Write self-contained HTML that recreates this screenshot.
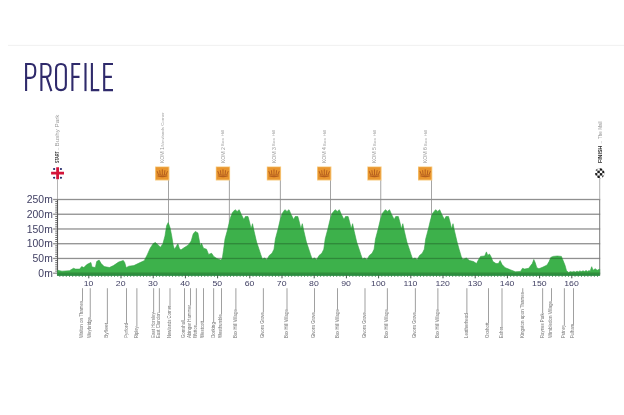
<!DOCTYPE html>
<html><head><meta charset="utf-8"><title>Profile</title>
<style>
html,body{margin:0;padding:0;background:#fff;}
body{width:624px;height:415px;overflow:hidden;font-family:"Liberation Sans",sans-serif;}
svg{display:block;will-change:transform;opacity:0.999}
text{font-family:"Liberation Sans",sans-serif;}
</style></head><body>
<svg width="624" height="415" viewBox="0 0 624 415">
<rect width="624" height="415" fill="#ffffff"/>
<rect x="8" y="44.8" width="616" height="1.2" fill="#f2f2f2"/>

<g fill="none" stroke="#2f2a6b" stroke-width="2.1" stroke-linecap="butt" stroke-linejoin="miter">
<path d="M26.1,91.1 V64.05 H30.7 Q35.25,64.05 35.25,70.05 V71.85 Q35.25,77.85 30.7,77.85 H26.1"/>
<path d="M41.4,91.1 V64.05 H46 Q50.55,64.05 50.55,69.64999999999999 V71.30000000000001 Q50.55,76.9 46,76.9 H41.4 M46.6,76.9 L51.4,91.1"/>
<path d="M56.05,69.05 Q56.05,64.05 60.95,64.05 Q65.85,64.05 65.85,69.05 V85.1 Q65.85,90.1 60.95,90.1 Q56.05,90.1 56.05,85.1 Z"/>
<path d="M72.4,91.1 V64.05 H80.2 M72.4,76.9 H79.5"/>
<path d="M85.5,63.0 V91.1"/>
<path d="M91.9,63.0 V90.1 H99.3"/>
<path d="M113,64.05 H104.2 V90.1 H113 M104.2,76.9 H111.9"/>
</g>
<clipPath id="pc"><polygon points="57.5,275.2 57.5,270.3 57.8,270.3 62.0,271.2 69.4,270.7 73.5,268.3 75.5,269.1 79.7,269.1 81.7,266.6 83.8,267.6 86.8,264.6 90.9,262.5 92.0,267.0 95.4,267.5 96.7,261.5 99.1,260.1 101.2,263.6 104.2,266.6 109.4,267.5 113.5,265.6 118.6,262.1 123.3,260.5 124.7,262.5 126.2,267.7 128.8,266.2 133.9,265.6 140.1,262.6 144.2,260.7 147.2,254.9 150.2,248.2 153.3,243.5 155.4,242.5 158.4,245.2 160.5,247.2 162.9,243.7 165.0,235.9 166.6,225.7 168.2,222.6 170.1,227.8 171.7,235.9 173.2,245.2 174.4,249.2 175.8,247.2 177.9,243.7 179.3,248.2 180.9,249.9 184.0,247.8 188.1,245.2 191.2,241.1 193.2,233.9 195.3,231.4 197.9,232.9 199.4,241.1 200.4,246.2 201.4,243.1 203.5,248.2 206.5,249.2 208.6,254.4 211.6,253.3 213.7,256.4 216.8,258.5 220.9,260.1 222.3,258.5 223.5,250.3 225.0,239.0 227.0,231.8 229.0,223.7 230.5,217.5 232.5,212.4 235.1,209.7 237.2,211.4 239.2,209.7 241.3,214.4 243.9,219.6 245.4,216.5 248.0,216.5 249.4,221.6 251.1,228.8 252.5,223.7 254.2,231.8 256.6,242.1 258.7,248.2 260.7,254.4 262.3,258.9 264.8,258.0 266.8,259.8 269.3,255.4 272.0,253.3 274.0,249.2 275.4,239.0 278.1,228.8 280.2,220.0 282.2,213.4 284.9,209.7 287.0,211.4 289.0,209.7 291.1,214.4 293.7,219.6 295.2,216.5 297.8,216.5 299.2,221.6 300.9,228.8 302.3,223.7 304.0,231.8 306.4,242.1 308.5,248.2 310.5,254.4 312.1,258.9 314.6,258.0 316.6,259.8 319.1,255.4 321.8,253.3 323.8,249.2 325.2,239.0 327.9,228.8 330.0,220.0 332.0,213.4 335.2,209.7 337.3,211.4 339.3,209.7 341.4,214.4 344.0,219.6 345.5,216.5 348.1,216.5 349.5,221.6 351.2,228.8 352.6,223.7 354.3,231.8 356.7,242.1 358.8,248.2 360.8,254.4 362.4,258.9 364.9,258.0 366.9,259.8 369.4,255.4 372.1,253.3 374.1,249.2 375.5,239.0 378.2,228.8 380.3,220.0 382.3,213.4 385.4,209.7 387.5,211.4 389.5,209.7 391.6,214.4 394.2,219.6 395.7,216.5 398.3,216.5 399.7,221.6 401.4,228.8 402.8,223.7 404.5,231.8 406.9,242.1 409.0,248.2 411.0,254.4 412.6,258.9 415.1,258.0 417.1,259.8 419.6,255.4 422.3,253.3 424.3,249.2 425.7,239.0 428.4,228.8 430.5,220.0 432.5,213.4 435.6,209.7 437.7,211.4 439.7,209.7 441.8,214.4 444.4,219.6 445.9,216.5 448.5,216.5 449.9,221.6 451.6,228.8 453.0,223.7 454.7,231.8 457.1,242.1 459.1,249.2 461.2,256.4 462.8,259.5 466.3,258.0 469.4,260.5 473.5,261.5 476.5,263.6 478.6,259.5 480.6,256.4 484.7,256.0 486.4,251.9 487.8,255.4 489.4,254.0 490.9,256.4 492.9,261.5 496.0,263.6 498.4,263.6 500.1,260.5 502.1,264.6 505.2,267.7 510.2,269.7 515.4,271.8 520.5,271.4 522.5,268.3 524.6,269.1 528.7,268.3 530.7,265.6 532.3,263.6 533.8,259.5 535.2,262.6 536.8,267.7 538.9,268.7 543.0,267.1 547.1,265.0 549.1,261.5 550.8,257.4 553.2,256.4 557.3,256.0 561.4,256.4 563.1,260.5 565.1,265.6 566.5,270.7 568.6,272.4 570.5,271.6 572.0,272.1 573.7,271.4 575.4,272.0 577.0,271.2 578.6,271.8 579.8,270.9 581.5,271.6 583.0,270.8 584.6,271.5 586.0,270.5 587.6,271.4 589.0,270.6 590.1,271.2 591.7,266.7 593.1,270.3 595.2,268.7 597.2,270.3 599.7,269.1 599.7,275.2"/></clipPath>
<rect x="53.1" y="272.55" width="547.1" height="1.3" fill="#909090"/>
<rect x="53.1" y="257.81" width="547.1" height="1.3" fill="#909090"/>
<rect x="53.1" y="243.07" width="547.1" height="1.3" fill="#909090"/>
<rect x="53.1" y="228.33" width="547.1" height="1.3" fill="#909090"/>
<rect x="53.1" y="213.59" width="547.1" height="1.3" fill="#909090"/>
<rect x="53.1" y="198.85" width="547.1" height="1.3" fill="#909090"/>
<rect x="57.0" y="179" width="1" height="20.50" fill="#b5b5b5"/>
<rect x="56.95" y="199.50" width="1.1" height="76.20" fill="#5a5a5a"/>
<rect x="599.2" y="178" width="1" height="21.50" fill="#b0b0b0"/>
<rect x="599.2" y="199.50" width="1" height="76.20" fill="#7a7a7a"/>
<rect x="168.20" y="180" width="0.8" height="95.19999999999999" fill="#8e8e8e"/>
<rect x="228.90" y="180" width="0.8" height="95.19999999999999" fill="#8e8e8e"/>
<rect x="279.90" y="180" width="0.8" height="95.19999999999999" fill="#8e8e8e"/>
<rect x="330.20" y="180" width="0.8" height="95.19999999999999" fill="#8e8e8e"/>
<rect x="380.40" y="180" width="0.8" height="95.19999999999999" fill="#8e8e8e"/>
<rect x="431.10" y="180" width="0.8" height="95.19999999999999" fill="#8e8e8e"/>
<polygon points="57.5,275.2 57.5,270.3 57.8,270.3 62.0,271.2 69.4,270.7 73.5,268.3 75.5,269.1 79.7,269.1 81.7,266.6 83.8,267.6 86.8,264.6 90.9,262.5 92.0,267.0 95.4,267.5 96.7,261.5 99.1,260.1 101.2,263.6 104.2,266.6 109.4,267.5 113.5,265.6 118.6,262.1 123.3,260.5 124.7,262.5 126.2,267.7 128.8,266.2 133.9,265.6 140.1,262.6 144.2,260.7 147.2,254.9 150.2,248.2 153.3,243.5 155.4,242.5 158.4,245.2 160.5,247.2 162.9,243.7 165.0,235.9 166.6,225.7 168.2,222.6 170.1,227.8 171.7,235.9 173.2,245.2 174.4,249.2 175.8,247.2 177.9,243.7 179.3,248.2 180.9,249.9 184.0,247.8 188.1,245.2 191.2,241.1 193.2,233.9 195.3,231.4 197.9,232.9 199.4,241.1 200.4,246.2 201.4,243.1 203.5,248.2 206.5,249.2 208.6,254.4 211.6,253.3 213.7,256.4 216.8,258.5 220.9,260.1 222.3,258.5 223.5,250.3 225.0,239.0 227.0,231.8 229.0,223.7 230.5,217.5 232.5,212.4 235.1,209.7 237.2,211.4 239.2,209.7 241.3,214.4 243.9,219.6 245.4,216.5 248.0,216.5 249.4,221.6 251.1,228.8 252.5,223.7 254.2,231.8 256.6,242.1 258.7,248.2 260.7,254.4 262.3,258.9 264.8,258.0 266.8,259.8 269.3,255.4 272.0,253.3 274.0,249.2 275.4,239.0 278.1,228.8 280.2,220.0 282.2,213.4 284.9,209.7 287.0,211.4 289.0,209.7 291.1,214.4 293.7,219.6 295.2,216.5 297.8,216.5 299.2,221.6 300.9,228.8 302.3,223.7 304.0,231.8 306.4,242.1 308.5,248.2 310.5,254.4 312.1,258.9 314.6,258.0 316.6,259.8 319.1,255.4 321.8,253.3 323.8,249.2 325.2,239.0 327.9,228.8 330.0,220.0 332.0,213.4 335.2,209.7 337.3,211.4 339.3,209.7 341.4,214.4 344.0,219.6 345.5,216.5 348.1,216.5 349.5,221.6 351.2,228.8 352.6,223.7 354.3,231.8 356.7,242.1 358.8,248.2 360.8,254.4 362.4,258.9 364.9,258.0 366.9,259.8 369.4,255.4 372.1,253.3 374.1,249.2 375.5,239.0 378.2,228.8 380.3,220.0 382.3,213.4 385.4,209.7 387.5,211.4 389.5,209.7 391.6,214.4 394.2,219.6 395.7,216.5 398.3,216.5 399.7,221.6 401.4,228.8 402.8,223.7 404.5,231.8 406.9,242.1 409.0,248.2 411.0,254.4 412.6,258.9 415.1,258.0 417.1,259.8 419.6,255.4 422.3,253.3 424.3,249.2 425.7,239.0 428.4,228.8 430.5,220.0 432.5,213.4 435.6,209.7 437.7,211.4 439.7,209.7 441.8,214.4 444.4,219.6 445.9,216.5 448.5,216.5 449.9,221.6 451.6,228.8 453.0,223.7 454.7,231.8 457.1,242.1 459.1,249.2 461.2,256.4 462.8,259.5 466.3,258.0 469.4,260.5 473.5,261.5 476.5,263.6 478.6,259.5 480.6,256.4 484.7,256.0 486.4,251.9 487.8,255.4 489.4,254.0 490.9,256.4 492.9,261.5 496.0,263.6 498.4,263.6 500.1,260.5 502.1,264.6 505.2,267.7 510.2,269.7 515.4,271.8 520.5,271.4 522.5,268.3 524.6,269.1 528.7,268.3 530.7,265.6 532.3,263.6 533.8,259.5 535.2,262.6 536.8,267.7 538.9,268.7 543.0,267.1 547.1,265.0 549.1,261.5 550.8,257.4 553.2,256.4 557.3,256.0 561.4,256.4 563.1,260.5 565.1,265.6 566.5,270.7 568.6,272.4 570.5,271.6 572.0,272.1 573.7,271.4 575.4,272.0 577.0,271.2 578.6,271.8 579.8,270.9 581.5,271.6 583.0,270.8 584.6,271.5 586.0,270.5 587.6,271.4 589.0,270.6 590.1,271.2 591.7,266.7 593.1,270.3 595.2,268.7 597.2,270.3 599.7,269.1 599.7,275.2" fill="#3db14b" stroke="#35a346" stroke-width="0.6" stroke-linejoin="round"/>
<g clip-path="url(#pc)">
<rect x="57.5" y="272.55" width="542.7" height="1.3" fill="#000" fill-opacity="0.23"/>
<rect x="57.5" y="257.81" width="542.7" height="1.3" fill="#000" fill-opacity="0.23"/>
<rect x="57.5" y="243.07" width="542.7" height="1.3" fill="#000" fill-opacity="0.23"/>
<rect x="57.5" y="228.33" width="542.7" height="1.3" fill="#000" fill-opacity="0.23"/>
<rect x="57.5" y="213.59" width="542.7" height="1.3" fill="#000" fill-opacity="0.23"/>
<rect x="57.5" y="198.85" width="542.7" height="1.3" fill="#000" fill-opacity="0.23"/>
</g>
<rect x="57.5" y="274.3" width="542.2" height="1.4" fill="#23803a"/>
<rect x="55.2" y="270.69" width="2.3" height="0.8" fill="#555"/>
<rect x="55.2" y="268.59" width="2.3" height="0.8" fill="#555"/>
<rect x="55.2" y="266.48" width="2.3" height="0.8" fill="#555"/>
<rect x="55.2" y="264.38" width="2.3" height="0.8" fill="#555"/>
<rect x="55.2" y="262.27" width="2.3" height="0.8" fill="#555"/>
<rect x="55.2" y="260.17" width="2.3" height="0.8" fill="#555"/>
<rect x="55.2" y="255.95" width="2.3" height="0.8" fill="#555"/>
<rect x="55.2" y="253.85" width="2.3" height="0.8" fill="#555"/>
<rect x="55.2" y="251.74" width="2.3" height="0.8" fill="#555"/>
<rect x="55.2" y="249.64" width="2.3" height="0.8" fill="#555"/>
<rect x="55.2" y="247.53" width="2.3" height="0.8" fill="#555"/>
<rect x="55.2" y="245.43" width="2.3" height="0.8" fill="#555"/>
<rect x="55.2" y="241.21" width="2.3" height="0.8" fill="#555"/>
<rect x="55.2" y="239.11" width="2.3" height="0.8" fill="#555"/>
<rect x="55.2" y="237.00" width="2.3" height="0.8" fill="#555"/>
<rect x="55.2" y="234.90" width="2.3" height="0.8" fill="#555"/>
<rect x="55.2" y="232.79" width="2.3" height="0.8" fill="#555"/>
<rect x="55.2" y="230.69" width="2.3" height="0.8" fill="#555"/>
<rect x="55.2" y="226.47" width="2.3" height="0.8" fill="#555"/>
<rect x="55.2" y="224.37" width="2.3" height="0.8" fill="#555"/>
<rect x="55.2" y="222.26" width="2.3" height="0.8" fill="#555"/>
<rect x="55.2" y="220.16" width="2.3" height="0.8" fill="#555"/>
<rect x="55.2" y="218.05" width="2.3" height="0.8" fill="#555"/>
<rect x="55.2" y="215.95" width="2.3" height="0.8" fill="#555"/>
<rect x="55.2" y="211.73" width="2.3" height="0.8" fill="#555"/>
<rect x="55.2" y="209.63" width="2.3" height="0.8" fill="#555"/>
<rect x="55.2" y="207.52" width="2.3" height="0.8" fill="#555"/>
<rect x="55.2" y="205.42" width="2.3" height="0.8" fill="#555"/>
<rect x="55.2" y="203.31" width="2.3" height="0.8" fill="#555"/>
<rect x="55.2" y="201.21" width="2.3" height="0.8" fill="#555"/>
<text x="52.8" y="276.8" font-size="10.4" text-anchor="end" fill="#3f3e62">0m</text>
<text x="52.8" y="262.1" font-size="10.4" text-anchor="end" fill="#3f3e62">50m</text>
<text x="52.8" y="247.3" font-size="10.4" text-anchor="end" fill="#3f3e62">100m</text>
<text x="52.8" y="232.6" font-size="10.4" text-anchor="end" fill="#3f3e62">150m</text>
<text x="52.8" y="217.8" font-size="10.4" text-anchor="end" fill="#3f3e62">200m</text>
<text x="52.8" y="203.1" font-size="10.4" text-anchor="end" fill="#3f3e62">250m</text>
<rect x="59.37" y="275.2" width="0.9" height="1.7" fill="#2e8b44" fill-opacity="0.85"/>
<rect x="62.59" y="275.2" width="0.9" height="1.7" fill="#2e8b44" fill-opacity="0.85"/>
<rect x="65.81" y="275.2" width="0.9" height="1.7" fill="#2e8b44" fill-opacity="0.85"/>
<rect x="69.03" y="275.2" width="0.9" height="1.7" fill="#2e8b44" fill-opacity="0.85"/>
<rect x="72.25" y="275.2" width="0.9" height="1.7" fill="#2e8b44" fill-opacity="0.85"/>
<rect x="75.47" y="275.2" width="0.9" height="1.7" fill="#2e8b44" fill-opacity="0.85"/>
<rect x="78.69" y="275.2" width="0.9" height="1.7" fill="#2e8b44" fill-opacity="0.85"/>
<rect x="81.91" y="275.2" width="0.9" height="1.7" fill="#2e8b44" fill-opacity="0.85"/>
<rect x="85.13" y="275.2" width="0.9" height="1.7" fill="#2e8b44" fill-opacity="0.85"/>
<rect x="88.30" y="275.2" width="1" height="3.1" fill="#3c5c44"/>
<rect x="91.57" y="275.2" width="0.9" height="1.7" fill="#2e8b44" fill-opacity="0.85"/>
<rect x="94.79" y="275.2" width="0.9" height="1.7" fill="#2e8b44" fill-opacity="0.85"/>
<rect x="98.01" y="275.2" width="0.9" height="1.7" fill="#2e8b44" fill-opacity="0.85"/>
<rect x="101.23" y="275.2" width="0.9" height="1.7" fill="#2e8b44" fill-opacity="0.85"/>
<rect x="104.45" y="275.2" width="0.9" height="1.7" fill="#2e8b44" fill-opacity="0.85"/>
<rect x="107.67" y="275.2" width="0.9" height="1.7" fill="#2e8b44" fill-opacity="0.85"/>
<rect x="110.89" y="275.2" width="0.9" height="1.7" fill="#2e8b44" fill-opacity="0.85"/>
<rect x="114.11" y="275.2" width="0.9" height="1.7" fill="#2e8b44" fill-opacity="0.85"/>
<rect x="117.33" y="275.2" width="0.9" height="1.7" fill="#2e8b44" fill-opacity="0.85"/>
<rect x="120.50" y="275.2" width="1" height="3.1" fill="#3c5c44"/>
<rect x="123.77" y="275.2" width="0.9" height="1.7" fill="#2e8b44" fill-opacity="0.85"/>
<rect x="126.99" y="275.2" width="0.9" height="1.7" fill="#2e8b44" fill-opacity="0.85"/>
<rect x="130.21" y="275.2" width="0.9" height="1.7" fill="#2e8b44" fill-opacity="0.85"/>
<rect x="133.43" y="275.2" width="0.9" height="1.7" fill="#2e8b44" fill-opacity="0.85"/>
<rect x="136.65" y="275.2" width="0.9" height="1.7" fill="#2e8b44" fill-opacity="0.85"/>
<rect x="139.87" y="275.2" width="0.9" height="1.7" fill="#2e8b44" fill-opacity="0.85"/>
<rect x="143.09" y="275.2" width="0.9" height="1.7" fill="#2e8b44" fill-opacity="0.85"/>
<rect x="146.31" y="275.2" width="0.9" height="1.7" fill="#2e8b44" fill-opacity="0.85"/>
<rect x="149.53" y="275.2" width="0.9" height="1.7" fill="#2e8b44" fill-opacity="0.85"/>
<rect x="152.70" y="275.2" width="1" height="3.1" fill="#3c5c44"/>
<rect x="155.97" y="275.2" width="0.9" height="1.7" fill="#2e8b44" fill-opacity="0.85"/>
<rect x="159.19" y="275.2" width="0.9" height="1.7" fill="#2e8b44" fill-opacity="0.85"/>
<rect x="162.41" y="275.2" width="0.9" height="1.7" fill="#2e8b44" fill-opacity="0.85"/>
<rect x="165.63" y="275.2" width="0.9" height="1.7" fill="#2e8b44" fill-opacity="0.85"/>
<rect x="168.85" y="275.2" width="0.9" height="1.7" fill="#2e8b44" fill-opacity="0.85"/>
<rect x="172.07" y="275.2" width="0.9" height="1.7" fill="#2e8b44" fill-opacity="0.85"/>
<rect x="175.29" y="275.2" width="0.9" height="1.7" fill="#2e8b44" fill-opacity="0.85"/>
<rect x="178.51" y="275.2" width="0.9" height="1.7" fill="#2e8b44" fill-opacity="0.85"/>
<rect x="181.73" y="275.2" width="0.9" height="1.7" fill="#2e8b44" fill-opacity="0.85"/>
<rect x="184.90" y="275.2" width="1" height="3.1" fill="#3c5c44"/>
<rect x="188.17" y="275.2" width="0.9" height="1.7" fill="#2e8b44" fill-opacity="0.85"/>
<rect x="191.39" y="275.2" width="0.9" height="1.7" fill="#2e8b44" fill-opacity="0.85"/>
<rect x="194.61" y="275.2" width="0.9" height="1.7" fill="#2e8b44" fill-opacity="0.85"/>
<rect x="197.83" y="275.2" width="0.9" height="1.7" fill="#2e8b44" fill-opacity="0.85"/>
<rect x="201.05" y="275.2" width="0.9" height="1.7" fill="#2e8b44" fill-opacity="0.85"/>
<rect x="204.27" y="275.2" width="0.9" height="1.7" fill="#2e8b44" fill-opacity="0.85"/>
<rect x="207.49" y="275.2" width="0.9" height="1.7" fill="#2e8b44" fill-opacity="0.85"/>
<rect x="210.71" y="275.2" width="0.9" height="1.7" fill="#2e8b44" fill-opacity="0.85"/>
<rect x="213.93" y="275.2" width="0.9" height="1.7" fill="#2e8b44" fill-opacity="0.85"/>
<rect x="217.10" y="275.2" width="1" height="3.1" fill="#3c5c44"/>
<rect x="220.37" y="275.2" width="0.9" height="1.7" fill="#2e8b44" fill-opacity="0.85"/>
<rect x="223.59" y="275.2" width="0.9" height="1.7" fill="#2e8b44" fill-opacity="0.85"/>
<rect x="226.81" y="275.2" width="0.9" height="1.7" fill="#2e8b44" fill-opacity="0.85"/>
<rect x="230.03" y="275.2" width="0.9" height="1.7" fill="#2e8b44" fill-opacity="0.85"/>
<rect x="233.25" y="275.2" width="0.9" height="1.7" fill="#2e8b44" fill-opacity="0.85"/>
<rect x="236.47" y="275.2" width="0.9" height="1.7" fill="#2e8b44" fill-opacity="0.85"/>
<rect x="239.69" y="275.2" width="0.9" height="1.7" fill="#2e8b44" fill-opacity="0.85"/>
<rect x="242.91" y="275.2" width="0.9" height="1.7" fill="#2e8b44" fill-opacity="0.85"/>
<rect x="246.13" y="275.2" width="0.9" height="1.7" fill="#2e8b44" fill-opacity="0.85"/>
<rect x="249.30" y="275.2" width="1" height="3.1" fill="#3c5c44"/>
<rect x="252.57" y="275.2" width="0.9" height="1.7" fill="#2e8b44" fill-opacity="0.85"/>
<rect x="255.79" y="275.2" width="0.9" height="1.7" fill="#2e8b44" fill-opacity="0.85"/>
<rect x="259.01" y="275.2" width="0.9" height="1.7" fill="#2e8b44" fill-opacity="0.85"/>
<rect x="262.23" y="275.2" width="0.9" height="1.7" fill="#2e8b44" fill-opacity="0.85"/>
<rect x="265.45" y="275.2" width="0.9" height="1.7" fill="#2e8b44" fill-opacity="0.85"/>
<rect x="268.67" y="275.2" width="0.9" height="1.7" fill="#2e8b44" fill-opacity="0.85"/>
<rect x="271.89" y="275.2" width="0.9" height="1.7" fill="#2e8b44" fill-opacity="0.85"/>
<rect x="275.11" y="275.2" width="0.9" height="1.7" fill="#2e8b44" fill-opacity="0.85"/>
<rect x="278.33" y="275.2" width="0.9" height="1.7" fill="#2e8b44" fill-opacity="0.85"/>
<rect x="281.50" y="275.2" width="1" height="3.1" fill="#3c5c44"/>
<rect x="284.77" y="275.2" width="0.9" height="1.7" fill="#2e8b44" fill-opacity="0.85"/>
<rect x="287.99" y="275.2" width="0.9" height="1.7" fill="#2e8b44" fill-opacity="0.85"/>
<rect x="291.21" y="275.2" width="0.9" height="1.7" fill="#2e8b44" fill-opacity="0.85"/>
<rect x="294.43" y="275.2" width="0.9" height="1.7" fill="#2e8b44" fill-opacity="0.85"/>
<rect x="297.65" y="275.2" width="0.9" height="1.7" fill="#2e8b44" fill-opacity="0.85"/>
<rect x="300.87" y="275.2" width="0.9" height="1.7" fill="#2e8b44" fill-opacity="0.85"/>
<rect x="304.09" y="275.2" width="0.9" height="1.7" fill="#2e8b44" fill-opacity="0.85"/>
<rect x="307.31" y="275.2" width="0.9" height="1.7" fill="#2e8b44" fill-opacity="0.85"/>
<rect x="310.53" y="275.2" width="0.9" height="1.7" fill="#2e8b44" fill-opacity="0.85"/>
<rect x="313.70" y="275.2" width="1" height="3.1" fill="#3c5c44"/>
<rect x="316.97" y="275.2" width="0.9" height="1.7" fill="#2e8b44" fill-opacity="0.85"/>
<rect x="320.19" y="275.2" width="0.9" height="1.7" fill="#2e8b44" fill-opacity="0.85"/>
<rect x="323.41" y="275.2" width="0.9" height="1.7" fill="#2e8b44" fill-opacity="0.85"/>
<rect x="326.63" y="275.2" width="0.9" height="1.7" fill="#2e8b44" fill-opacity="0.85"/>
<rect x="329.85" y="275.2" width="0.9" height="1.7" fill="#2e8b44" fill-opacity="0.85"/>
<rect x="333.07" y="275.2" width="0.9" height="1.7" fill="#2e8b44" fill-opacity="0.85"/>
<rect x="336.29" y="275.2" width="0.9" height="1.7" fill="#2e8b44" fill-opacity="0.85"/>
<rect x="339.51" y="275.2" width="0.9" height="1.7" fill="#2e8b44" fill-opacity="0.85"/>
<rect x="342.73" y="275.2" width="0.9" height="1.7" fill="#2e8b44" fill-opacity="0.85"/>
<rect x="345.90" y="275.2" width="1" height="3.1" fill="#3c5c44"/>
<rect x="349.17" y="275.2" width="0.9" height="1.7" fill="#2e8b44" fill-opacity="0.85"/>
<rect x="352.39" y="275.2" width="0.9" height="1.7" fill="#2e8b44" fill-opacity="0.85"/>
<rect x="355.61" y="275.2" width="0.9" height="1.7" fill="#2e8b44" fill-opacity="0.85"/>
<rect x="358.83" y="275.2" width="0.9" height="1.7" fill="#2e8b44" fill-opacity="0.85"/>
<rect x="362.05" y="275.2" width="0.9" height="1.7" fill="#2e8b44" fill-opacity="0.85"/>
<rect x="365.27" y="275.2" width="0.9" height="1.7" fill="#2e8b44" fill-opacity="0.85"/>
<rect x="368.49" y="275.2" width="0.9" height="1.7" fill="#2e8b44" fill-opacity="0.85"/>
<rect x="371.71" y="275.2" width="0.9" height="1.7" fill="#2e8b44" fill-opacity="0.85"/>
<rect x="374.93" y="275.2" width="0.9" height="1.7" fill="#2e8b44" fill-opacity="0.85"/>
<rect x="378.10" y="275.2" width="1" height="3.1" fill="#3c5c44"/>
<rect x="381.37" y="275.2" width="0.9" height="1.7" fill="#2e8b44" fill-opacity="0.85"/>
<rect x="384.59" y="275.2" width="0.9" height="1.7" fill="#2e8b44" fill-opacity="0.85"/>
<rect x="387.81" y="275.2" width="0.9" height="1.7" fill="#2e8b44" fill-opacity="0.85"/>
<rect x="391.03" y="275.2" width="0.9" height="1.7" fill="#2e8b44" fill-opacity="0.85"/>
<rect x="394.25" y="275.2" width="0.9" height="1.7" fill="#2e8b44" fill-opacity="0.85"/>
<rect x="397.47" y="275.2" width="0.9" height="1.7" fill="#2e8b44" fill-opacity="0.85"/>
<rect x="400.69" y="275.2" width="0.9" height="1.7" fill="#2e8b44" fill-opacity="0.85"/>
<rect x="403.91" y="275.2" width="0.9" height="1.7" fill="#2e8b44" fill-opacity="0.85"/>
<rect x="407.13" y="275.2" width="0.9" height="1.7" fill="#2e8b44" fill-opacity="0.85"/>
<rect x="410.30" y="275.2" width="1" height="3.1" fill="#3c5c44"/>
<rect x="413.57" y="275.2" width="0.9" height="1.7" fill="#2e8b44" fill-opacity="0.85"/>
<rect x="416.79" y="275.2" width="0.9" height="1.7" fill="#2e8b44" fill-opacity="0.85"/>
<rect x="420.01" y="275.2" width="0.9" height="1.7" fill="#2e8b44" fill-opacity="0.85"/>
<rect x="423.23" y="275.2" width="0.9" height="1.7" fill="#2e8b44" fill-opacity="0.85"/>
<rect x="426.45" y="275.2" width="0.9" height="1.7" fill="#2e8b44" fill-opacity="0.85"/>
<rect x="429.67" y="275.2" width="0.9" height="1.7" fill="#2e8b44" fill-opacity="0.85"/>
<rect x="432.89" y="275.2" width="0.9" height="1.7" fill="#2e8b44" fill-opacity="0.85"/>
<rect x="436.11" y="275.2" width="0.9" height="1.7" fill="#2e8b44" fill-opacity="0.85"/>
<rect x="439.33" y="275.2" width="0.9" height="1.7" fill="#2e8b44" fill-opacity="0.85"/>
<rect x="442.50" y="275.2" width="1" height="3.1" fill="#3c5c44"/>
<rect x="445.77" y="275.2" width="0.9" height="1.7" fill="#2e8b44" fill-opacity="0.85"/>
<rect x="448.99" y="275.2" width="0.9" height="1.7" fill="#2e8b44" fill-opacity="0.85"/>
<rect x="452.21" y="275.2" width="0.9" height="1.7" fill="#2e8b44" fill-opacity="0.85"/>
<rect x="455.43" y="275.2" width="0.9" height="1.7" fill="#2e8b44" fill-opacity="0.85"/>
<rect x="458.65" y="275.2" width="0.9" height="1.7" fill="#2e8b44" fill-opacity="0.85"/>
<rect x="461.87" y="275.2" width="0.9" height="1.7" fill="#2e8b44" fill-opacity="0.85"/>
<rect x="465.09" y="275.2" width="0.9" height="1.7" fill="#2e8b44" fill-opacity="0.85"/>
<rect x="468.31" y="275.2" width="0.9" height="1.7" fill="#2e8b44" fill-opacity="0.85"/>
<rect x="471.53" y="275.2" width="0.9" height="1.7" fill="#2e8b44" fill-opacity="0.85"/>
<rect x="474.70" y="275.2" width="1" height="3.1" fill="#3c5c44"/>
<rect x="477.97" y="275.2" width="0.9" height="1.7" fill="#2e8b44" fill-opacity="0.85"/>
<rect x="481.19" y="275.2" width="0.9" height="1.7" fill="#2e8b44" fill-opacity="0.85"/>
<rect x="484.41" y="275.2" width="0.9" height="1.7" fill="#2e8b44" fill-opacity="0.85"/>
<rect x="487.63" y="275.2" width="0.9" height="1.7" fill="#2e8b44" fill-opacity="0.85"/>
<rect x="490.85" y="275.2" width="0.9" height="1.7" fill="#2e8b44" fill-opacity="0.85"/>
<rect x="494.07" y="275.2" width="0.9" height="1.7" fill="#2e8b44" fill-opacity="0.85"/>
<rect x="497.29" y="275.2" width="0.9" height="1.7" fill="#2e8b44" fill-opacity="0.85"/>
<rect x="500.51" y="275.2" width="0.9" height="1.7" fill="#2e8b44" fill-opacity="0.85"/>
<rect x="503.73" y="275.2" width="0.9" height="1.7" fill="#2e8b44" fill-opacity="0.85"/>
<rect x="506.90" y="275.2" width="1" height="3.1" fill="#3c5c44"/>
<rect x="510.17" y="275.2" width="0.9" height="1.7" fill="#2e8b44" fill-opacity="0.85"/>
<rect x="513.39" y="275.2" width="0.9" height="1.7" fill="#2e8b44" fill-opacity="0.85"/>
<rect x="516.61" y="275.2" width="0.9" height="1.7" fill="#2e8b44" fill-opacity="0.85"/>
<rect x="519.83" y="275.2" width="0.9" height="1.7" fill="#2e8b44" fill-opacity="0.85"/>
<rect x="523.05" y="275.2" width="0.9" height="1.7" fill="#2e8b44" fill-opacity="0.85"/>
<rect x="526.27" y="275.2" width="0.9" height="1.7" fill="#2e8b44" fill-opacity="0.85"/>
<rect x="529.49" y="275.2" width="0.9" height="1.7" fill="#2e8b44" fill-opacity="0.85"/>
<rect x="532.71" y="275.2" width="0.9" height="1.7" fill="#2e8b44" fill-opacity="0.85"/>
<rect x="535.93" y="275.2" width="0.9" height="1.7" fill="#2e8b44" fill-opacity="0.85"/>
<rect x="539.10" y="275.2" width="1" height="3.1" fill="#3c5c44"/>
<rect x="542.37" y="275.2" width="0.9" height="1.7" fill="#2e8b44" fill-opacity="0.85"/>
<rect x="545.59" y="275.2" width="0.9" height="1.7" fill="#2e8b44" fill-opacity="0.85"/>
<rect x="548.81" y="275.2" width="0.9" height="1.7" fill="#2e8b44" fill-opacity="0.85"/>
<rect x="552.03" y="275.2" width="0.9" height="1.7" fill="#2e8b44" fill-opacity="0.85"/>
<rect x="555.25" y="275.2" width="0.9" height="1.7" fill="#2e8b44" fill-opacity="0.85"/>
<rect x="558.47" y="275.2" width="0.9" height="1.7" fill="#2e8b44" fill-opacity="0.85"/>
<rect x="561.69" y="275.2" width="0.9" height="1.7" fill="#2e8b44" fill-opacity="0.85"/>
<rect x="564.91" y="275.2" width="0.9" height="1.7" fill="#2e8b44" fill-opacity="0.85"/>
<rect x="568.13" y="275.2" width="0.9" height="1.7" fill="#2e8b44" fill-opacity="0.85"/>
<rect x="571.30" y="275.2" width="1" height="3.1" fill="#3c5c44"/>
<rect x="574.57" y="275.2" width="0.9" height="1.7" fill="#2e8b44" fill-opacity="0.85"/>
<rect x="577.79" y="275.2" width="0.9" height="1.7" fill="#2e8b44" fill-opacity="0.85"/>
<rect x="581.01" y="275.2" width="0.9" height="1.7" fill="#2e8b44" fill-opacity="0.85"/>
<rect x="584.23" y="275.2" width="0.9" height="1.7" fill="#2e8b44" fill-opacity="0.85"/>
<rect x="587.45" y="275.2" width="0.9" height="1.7" fill="#2e8b44" fill-opacity="0.85"/>
<rect x="590.67" y="275.2" width="0.9" height="1.7" fill="#2e8b44" fill-opacity="0.85"/>
<rect x="593.89" y="275.2" width="0.9" height="1.7" fill="#2e8b44" fill-opacity="0.85"/>
<rect x="597.11" y="275.2" width="0.9" height="1.7" fill="#2e8b44" fill-opacity="0.85"/>
<text transform="translate(88.5,286) scale(1.16,1)" font-size="7.5" text-anchor="middle" fill="#3f3e62">10</text>
<text transform="translate(120.7,286) scale(1.16,1)" font-size="7.5" text-anchor="middle" fill="#3f3e62">20</text>
<text transform="translate(152.9,286) scale(1.16,1)" font-size="7.5" text-anchor="middle" fill="#3f3e62">30</text>
<text transform="translate(185.1,286) scale(1.16,1)" font-size="7.5" text-anchor="middle" fill="#3f3e62">40</text>
<text transform="translate(217.3,286) scale(1.16,1)" font-size="7.5" text-anchor="middle" fill="#3f3e62">50</text>
<text transform="translate(249.5,286) scale(1.16,1)" font-size="7.5" text-anchor="middle" fill="#3f3e62">60</text>
<text transform="translate(281.7,286) scale(1.16,1)" font-size="7.5" text-anchor="middle" fill="#3f3e62">70</text>
<text transform="translate(313.9,286) scale(1.16,1)" font-size="7.5" text-anchor="middle" fill="#3f3e62">80</text>
<text transform="translate(346.1,286) scale(1.16,1)" font-size="7.5" text-anchor="middle" fill="#3f3e62">90</text>
<text transform="translate(378.3,286) scale(1.16,1)" font-size="7.5" text-anchor="middle" fill="#3f3e62">100</text>
<text transform="translate(410.5,286) scale(1.16,1)" font-size="7.5" text-anchor="middle" fill="#3f3e62">110</text>
<text transform="translate(442.7,286) scale(1.16,1)" font-size="7.5" text-anchor="middle" fill="#3f3e62">120</text>
<text transform="translate(474.9,286) scale(1.16,1)" font-size="7.5" text-anchor="middle" fill="#3f3e62">130</text>
<text transform="translate(507.1,286) scale(1.16,1)" font-size="7.5" text-anchor="middle" fill="#3f3e62">140</text>
<text transform="translate(539.3,286) scale(1.16,1)" font-size="7.5" text-anchor="middle" fill="#3f3e62">150</text>
<text transform="translate(571.5,286) scale(1.16,1)" font-size="7.5" text-anchor="middle" fill="#3f3e62">160</text>
<rect x="82.0" y="288.2" width="0.8" height="12.8" fill="#6a6a6a" fill-opacity="0.8"/>
<text transform="translate(83.3,338) rotate(-90)" font-size="4.5" textLength="37.3" lengthAdjust="spacingAndGlyphs" fill="#727272">Walton on Thames</text>
<rect x="89.8" y="288.2" width="0.8" height="29.1" fill="#6a6a6a" fill-opacity="0.8"/>
<text transform="translate(91.1,338) rotate(-90)" font-size="4.5" textLength="21" lengthAdjust="spacingAndGlyphs" fill="#727272">Weybridge</text>
<rect x="106.9" y="288.2" width="0.8" height="35.1" fill="#6a6a6a" fill-opacity="0.8"/>
<text transform="translate(108.2,338) rotate(-90)" font-size="4.5" textLength="15" lengthAdjust="spacingAndGlyphs" fill="#727272">Byfleet</text>
<rect x="126.2" y="288.2" width="0.8" height="35.1" fill="#6a6a6a" fill-opacity="0.8"/>
<text transform="translate(127.5,338) rotate(-90)" font-size="4.5" textLength="15" lengthAdjust="spacingAndGlyphs" fill="#727272">Pyrford</text>
<rect x="136.5" y="288.2" width="0.8" height="38.5" fill="#6a6a6a" fill-opacity="0.8"/>
<text transform="translate(137.8,338) rotate(-90)" font-size="4.5" textLength="11.6" lengthAdjust="spacingAndGlyphs" fill="#727272">Ripley</text>
<rect x="153.3" y="288.2" width="0.8" height="24.4" fill="#6a6a6a" fill-opacity="0.8"/>
<text transform="translate(154.6,338) rotate(-90)" font-size="4.5" textLength="25.7" lengthAdjust="spacingAndGlyphs" fill="#727272">East Horsley</text>
<rect x="158.9" y="288.2" width="0.8" height="24.4" fill="#6a6a6a" fill-opacity="0.8"/>
<text transform="translate(160.2,338) rotate(-90)" font-size="4.5" textLength="25.7" lengthAdjust="spacingAndGlyphs" fill="#727272">East Clandon</text>
<rect x="169.6" y="288.2" width="0.8" height="17.7" fill="#6a6a6a" fill-opacity="0.8"/>
<text transform="translate(170.9,338) rotate(-90)" font-size="4.5" textLength="32.4" lengthAdjust="spacingAndGlyphs" fill="#727272">Newlands Corner</text>
<rect x="184.1" y="288.2" width="0.8" height="32.1" fill="#6a6a6a" fill-opacity="0.8"/>
<text transform="translate(185.4,338) rotate(-90)" font-size="4.5" textLength="18" lengthAdjust="spacingAndGlyphs" fill="#727272">Gomshall</text>
<rect x="190.1" y="288.2" width="0.8" height="17.1" fill="#6a6a6a" fill-opacity="0.8"/>
<text transform="translate(191.4,338) rotate(-90)" font-size="4.5" textLength="33" lengthAdjust="spacingAndGlyphs" fill="#727272">Abinger Hammer</text>
<rect x="195.9" y="288.2" width="0.8" height="37.1" fill="#6a6a6a" fill-opacity="0.8"/>
<text transform="translate(197.2,338) rotate(-90)" font-size="4.5" textLength="13" lengthAdjust="spacingAndGlyphs" fill="#727272">Wotton</text>
<rect x="203.0" y="288.2" width="0.8" height="33.1" fill="#6a6a6a" fill-opacity="0.8"/>
<text transform="translate(204.3,338) rotate(-90)" font-size="4.5" textLength="17" lengthAdjust="spacingAndGlyphs" fill="#727272">Westcott</text>
<rect x="213.3" y="288.2" width="0.8" height="34.1" fill="#6a6a6a" fill-opacity="0.8"/>
<text transform="translate(214.6,338) rotate(-90)" font-size="4.5" textLength="16" lengthAdjust="spacingAndGlyphs" fill="#727272">Dorking</text>
<rect x="221.0" y="288.2" width="0.8" height="26.4" fill="#6a6a6a" fill-opacity="0.8"/>
<text transform="translate(222.3,338) rotate(-90)" font-size="4.5" textLength="23.7" lengthAdjust="spacingAndGlyphs" fill="#727272">Westhumble</text>
<rect x="235.5" y="288.2" width="0.8" height="21.5" fill="#6a6a6a" fill-opacity="0.8"/>
<text transform="translate(236.8,338) rotate(-90)" font-size="4.5" textLength="28.6" lengthAdjust="spacingAndGlyphs" fill="#727272">Box Hill Village</text>
<rect x="262.9" y="288.2" width="0.8" height="24.4" fill="#6a6a6a" fill-opacity="0.8"/>
<text transform="translate(264.2,338) rotate(-90)" font-size="4.5" textLength="25.7" lengthAdjust="spacingAndGlyphs" fill="#727272">Givons Grove</text>
<rect x="286.6" y="288.2" width="0.8" height="21.5" fill="#6a6a6a" fill-opacity="0.8"/>
<text transform="translate(287.9,338) rotate(-90)" font-size="4.5" textLength="28.6" lengthAdjust="spacingAndGlyphs" fill="#727272">Box Hill Village</text>
<rect x="314.0" y="288.2" width="0.8" height="24.4" fill="#6a6a6a" fill-opacity="0.8"/>
<text transform="translate(315.3,338) rotate(-90)" font-size="4.5" textLength="25.7" lengthAdjust="spacingAndGlyphs" fill="#727272">Givons Grove</text>
<rect x="337.2" y="288.2" width="0.8" height="21.5" fill="#6a6a6a" fill-opacity="0.8"/>
<text transform="translate(338.5,338) rotate(-90)" font-size="4.5" textLength="28.6" lengthAdjust="spacingAndGlyphs" fill="#727272">Box Hill Village</text>
<rect x="364.6" y="288.2" width="0.8" height="24.4" fill="#6a6a6a" fill-opacity="0.8"/>
<text transform="translate(365.9,338) rotate(-90)" font-size="4.5" textLength="25.7" lengthAdjust="spacingAndGlyphs" fill="#727272">Givons Grove</text>
<rect x="386.9" y="288.2" width="0.8" height="21.5" fill="#6a6a6a" fill-opacity="0.8"/>
<text transform="translate(388.2,338) rotate(-90)" font-size="4.5" textLength="28.6" lengthAdjust="spacingAndGlyphs" fill="#727272">Box Hill Village</text>
<rect x="414.9" y="288.2" width="0.8" height="24.4" fill="#6a6a6a" fill-opacity="0.8"/>
<text transform="translate(416.2,338) rotate(-90)" font-size="4.5" textLength="25.7" lengthAdjust="spacingAndGlyphs" fill="#727272">Givons Grove</text>
<rect x="437.5" y="288.2" width="0.8" height="21.5" fill="#6a6a6a" fill-opacity="0.8"/>
<text transform="translate(438.8,338) rotate(-90)" font-size="4.5" textLength="28.6" lengthAdjust="spacingAndGlyphs" fill="#727272">Box Hill Village</text>
<rect x="466.5" y="288.2" width="0.8" height="25.4" fill="#6a6a6a" fill-opacity="0.8"/>
<text transform="translate(467.8,338) rotate(-90)" font-size="4.5" textLength="24.7" lengthAdjust="spacingAndGlyphs" fill="#727272">Leatherhead</text>
<rect x="488.1" y="288.2" width="0.8" height="34.7" fill="#6a6a6a" fill-opacity="0.8"/>
<text transform="translate(489.4,338) rotate(-90)" font-size="4.5" textLength="15.4" lengthAdjust="spacingAndGlyphs" fill="#727272">Oxshott</text>
<rect x="501.6" y="288.2" width="0.8" height="38.9" fill="#6a6a6a" fill-opacity="0.8"/>
<text transform="translate(502.9,338) rotate(-90)" font-size="4.5" textLength="11.2" lengthAdjust="spacingAndGlyphs" fill="#727272">Esher</text>
<rect x="522.4" y="288.2" width="0.8" height="4.1" fill="#6a6a6a" fill-opacity="0.8"/>
<text transform="translate(523.7,338) rotate(-90)" font-size="4.5" textLength="46" lengthAdjust="spacingAndGlyphs" fill="#727272">Kingston upon Thames</text>
<rect x="542.3" y="288.2" width="0.8" height="25.4" fill="#6a6a6a" fill-opacity="0.8"/>
<text transform="translate(543.6,338) rotate(-90)" font-size="4.5" textLength="24.7" lengthAdjust="spacingAndGlyphs" fill="#727272">Raynes Park</text>
<rect x="551.0" y="288.2" width="0.8" height="13.1" fill="#6a6a6a" fill-opacity="0.8"/>
<text transform="translate(552.3,338) rotate(-90)" font-size="4.5" textLength="37" lengthAdjust="spacingAndGlyphs" fill="#727272">Wimbledon Village</text>
<rect x="563.9" y="288.2" width="0.8" height="37.1" fill="#6a6a6a" fill-opacity="0.8"/>
<text transform="translate(565.2,338) rotate(-90)" font-size="4.5" textLength="13" lengthAdjust="spacingAndGlyphs" fill="#727272">Putney</text>
<rect x="573.0" y="288.2" width="0.8" height="36.1" fill="#6a6a6a" fill-opacity="0.8"/>
<text transform="translate(574.3,338) rotate(-90)" font-size="4.5" textLength="14" lengthAdjust="spacingAndGlyphs" fill="#727272">Fulham</text>
<defs><g id="crown" fill="none" stroke="#b55f1e" stroke-linecap="round"><path d="M2.7,8.7 Q7.1,9.9 11.5,8.7" stroke-width="1.1"/><path d="M3.0,7.6 Q7.1,8.6 11.2,7.6" stroke-width="0.9"/><path d="M7.1,7.4 V3.0 M5.0,7.3 L4.6,3.7 M9.2,7.3 L9.6,3.7 M3.1,7.0 L2.2,4.6 M11.1,7.0 L12.0,4.6" stroke-width="1.0"/><circle cx="7.1" cy="2.5" r="0.5" fill="#b55f1e" stroke="none"/><circle cx="4.5" cy="3.2" r="0.45" fill="#b55f1e" stroke="none"/><circle cx="9.7" cy="3.2" r="0.45" fill="#b55f1e" stroke="none"/><circle cx="2.0" cy="4.2" r="0.45" fill="#b55f1e" stroke="none"/><circle cx="12.2" cy="4.2" r="0.45" fill="#b55f1e" stroke="none"/></g></defs>
<rect x="155.1" y="166.5" width="14.3" height="14" fill="#f7c97c"/>
<rect x="155.8" y="167.2" width="12.7" height="12.4" fill="#e9962f"/>
<use href="#crown" x="155.2" y="167.3"/>
<text transform="translate(163.9,163.3) rotate(-90)" font-size="5.3" textLength="16.2" lengthAdjust="spacingAndGlyphs" fill="#999">KOM 1</text>
<text transform="translate(163.6,146.4) rotate(-90)" font-size="4.4" textLength="34" lengthAdjust="spacingAndGlyphs" fill="#a6a6a6">Newlands Corner</text>
<rect x="215.8" y="166.5" width="14.3" height="14" fill="#f7c97c"/>
<rect x="216.5" y="167.2" width="12.7" height="12.4" fill="#e9962f"/>
<use href="#crown" x="215.9" y="167.3"/>
<text transform="translate(224.6,163.3) rotate(-90)" font-size="5.3" textLength="16.2" lengthAdjust="spacingAndGlyphs" fill="#999">KOM 2</text>
<text transform="translate(224.3,146.4) rotate(-90)" font-size="4.4" textLength="16.6" lengthAdjust="spacingAndGlyphs" fill="#a6a6a6">Box Hill</text>
<rect x="266.8" y="166.5" width="14.3" height="14" fill="#f7c97c"/>
<rect x="267.5" y="167.2" width="12.7" height="12.4" fill="#e9962f"/>
<use href="#crown" x="266.9" y="167.3"/>
<text transform="translate(275.6,163.3) rotate(-90)" font-size="5.3" textLength="16.2" lengthAdjust="spacingAndGlyphs" fill="#999">KOM 3</text>
<text transform="translate(275.3,146.4) rotate(-90)" font-size="4.4" textLength="16.6" lengthAdjust="spacingAndGlyphs" fill="#a6a6a6">Box Hill</text>
<rect x="317.1" y="166.5" width="14.3" height="14" fill="#f7c97c"/>
<rect x="317.8" y="167.2" width="12.7" height="12.4" fill="#e9962f"/>
<use href="#crown" x="317.2" y="167.3"/>
<text transform="translate(325.9,163.3) rotate(-90)" font-size="5.3" textLength="16.2" lengthAdjust="spacingAndGlyphs" fill="#999">KOM 4</text>
<text transform="translate(325.6,146.4) rotate(-90)" font-size="4.4" textLength="16.6" lengthAdjust="spacingAndGlyphs" fill="#a6a6a6">Box Hill</text>
<rect x="367.3" y="166.5" width="14.3" height="14" fill="#f7c97c"/>
<rect x="368.0" y="167.2" width="12.7" height="12.4" fill="#e9962f"/>
<use href="#crown" x="367.4" y="167.3"/>
<text transform="translate(376.1,163.3) rotate(-90)" font-size="5.3" textLength="16.2" lengthAdjust="spacingAndGlyphs" fill="#999">KOM 5</text>
<text transform="translate(375.8,146.4) rotate(-90)" font-size="4.4" textLength="16.6" lengthAdjust="spacingAndGlyphs" fill="#a6a6a6">Box Hill</text>
<rect x="418.0" y="166.5" width="14.3" height="14" fill="#f7c97c"/>
<rect x="418.7" y="167.2" width="12.7" height="12.4" fill="#e9962f"/>
<use href="#crown" x="418.1" y="167.3"/>
<text transform="translate(426.8,163.3) rotate(-90)" font-size="5.3" textLength="16.2" lengthAdjust="spacingAndGlyphs" fill="#999">KOM 6</text>
<text transform="translate(426.5,146.4) rotate(-90)" font-size="4.4" textLength="16.6" lengthAdjust="spacingAndGlyphs" fill="#a6a6a6">Box Hill</text>
<g><ellipse cx="57.6" cy="173.2" rx="6.2" ry="6" fill="#fff"/>
<ellipse cx="54.2" cy="169.0" rx="1.25" ry="1.0" fill="#2b2f6e"/>
<ellipse cx="54.2" cy="177.7" rx="1.25" ry="1.0" fill="#2b2f6e"/>
<ellipse cx="60.9" cy="169.0" rx="1.25" ry="1.0" fill="#2b2f6e"/>
<ellipse cx="60.9" cy="177.7" rx="1.25" ry="1.0" fill="#2b2f6e"/>
<path d="M51.1,173.2 H64.0 M57.6,167.2 V179.29999999999998" stroke="#fff" stroke-width="4.4" fill="none"/><path d="M51.1,173.2 H64.0 M57.6,167.2 V179.29999999999998" stroke="#d4143a" stroke-width="2.8" fill="none"/></g>
<text transform="translate(59.1,162.9) rotate(-90)" font-size="4.6" font-weight="bold" textLength="11.5" lengthAdjust="spacingAndGlyphs" fill="#2e2e2e">START</text>
<text transform="translate(59.0,150.3) rotate(-90)" font-size="4.3" fill="#999">–</text>
<text transform="translate(59.0,146.4) rotate(-90)" font-size="4.9" textLength="31.7" lengthAdjust="spacingAndGlyphs" fill="#999">Bushy Park</text>
<clipPath id="gc"><ellipse cx="599.8" cy="173.1" rx="4.8" ry="5.2"/></clipPath>
<g clip-path="url(#gc)"><rect x="593.8" y="167.1" width="12" height="12" fill="#fff"/><rect x="592.45" y="165.75" width="2.45" height="2.45" fill="#1a1a1a"/><rect x="592.45" y="170.65" width="2.45" height="2.45" fill="#1a1a1a"/><rect x="592.45" y="175.55" width="2.45" height="2.45" fill="#1a1a1a"/><rect x="594.90" y="168.20" width="2.45" height="2.45" fill="#1a1a1a"/><rect x="594.90" y="173.10" width="2.45" height="2.45" fill="#1a1a1a"/><rect x="594.90" y="178.00" width="2.45" height="2.45" fill="#1a1a1a"/><rect x="597.35" y="165.75" width="2.45" height="2.45" fill="#1a1a1a"/><rect x="597.35" y="170.65" width="2.45" height="2.45" fill="#1a1a1a"/><rect x="597.35" y="175.55" width="2.45" height="2.45" fill="#1a1a1a"/><rect x="599.80" y="168.20" width="2.45" height="2.45" fill="#1a1a1a"/><rect x="599.80" y="173.10" width="2.45" height="2.45" fill="#1a1a1a"/><rect x="599.80" y="178.00" width="2.45" height="2.45" fill="#1a1a1a"/><rect x="602.25" y="165.75" width="2.45" height="2.45" fill="#1a1a1a"/><rect x="602.25" y="170.65" width="2.45" height="2.45" fill="#1a1a1a"/><rect x="602.25" y="175.55" width="2.45" height="2.45" fill="#1a1a1a"/><rect x="604.70" y="168.20" width="2.45" height="2.45" fill="#1a1a1a"/><rect x="604.70" y="173.10" width="2.45" height="2.45" fill="#1a1a1a"/><rect x="604.70" y="178.00" width="2.45" height="2.45" fill="#1a1a1a"/></g>
<text transform="translate(601.7,163.1) rotate(-90)" font-size="4.5" font-weight="bold" textLength="17.4" lengthAdjust="spacingAndGlyphs" fill="#2e2e2e">FINISH</text>
<text transform="translate(601.6,143.6) rotate(-90)" font-size="4.3" fill="#999">–</text>
<text transform="translate(601.6,139.1) rotate(-90)" font-size="4.6" textLength="17.7" lengthAdjust="spacingAndGlyphs" fill="#929292">The Mall</text>
</svg></body></html>
